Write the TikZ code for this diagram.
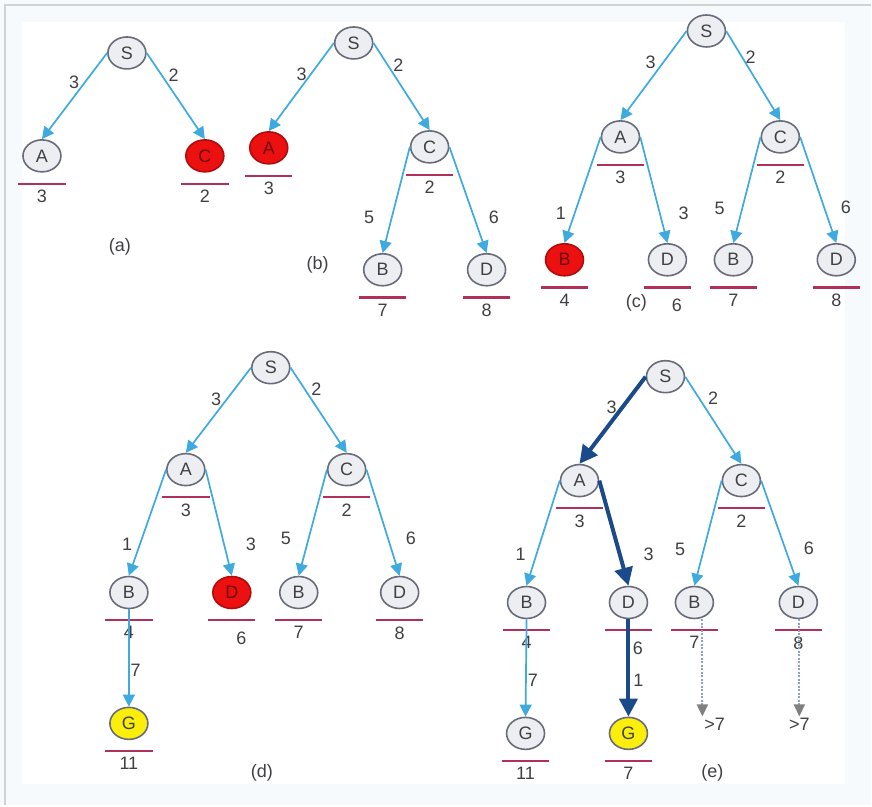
\documentclass[tikz,border=0pt]{standalone}
\usepackage{fontspec}
\setmainfont{Liberation Sans}
\usepackage{tikz}
\usetikzlibrary{arrows.meta,positioning,shapes.geometric}

\definecolor{nodefill}{RGB}{236,238,242}
\definecolor{nodeedge}{RGB}{104,108,122}
\definecolor{hotred}{RGB}{236,16,16}
\definecolor{goalyel}{RGB}{250,238,10}
\definecolor{edgeblue}{RGB}{62,170,224}
\definecolor{pathblue}{RGB}{26,74,138}
\definecolor{prunegray}{RGB}{140,165,192}
\definecolor{barred}{RGB}{176,48,88}
\definecolor{txt}{RGB}{64,64,68}
\definecolor{paper}{RGB}{247,250,252}

\tikzset{
  state/.style={ellipse, draw=nodeedge, line width=1.6pt, fill=nodefill, minimum width=38pt, minimum height=32pt, inner sep=0pt, text=txt},
  hot/.style={state, fill=hotred, draw=hotred!75!black, text=hotred!45!black},
  goal/.style={state, fill=goalyel},
  arc/.style={draw=edgeblue, line width=1.7pt, -{Triangle[length=12pt,width=12pt]}},
  best/.style={draw=pathblue, line width=4pt, -{Triangle[length=18pt,width=18pt]}},
  prune/.style={draw=prunegray, line width=2pt, dash pattern=on 2pt off 1.5pt, -{Triangle[length=12pt,width=11pt,color=gray]}},
  wt/.style={text=txt, inner sep=1pt},
  costbar/.style={draw=barred, line width=2.2pt},
  cost/.style={text=txt, minimum width=47pt, inner xsep=0pt, inner ysep=6pt,
    append after command={(\tikzlastnode.north west) edge[costbar] (\tikzlastnode.north east)}},
  costR/.style={cost, text width=29pt, inner xsep=9pt, align=right, inner ysep=11pt},
  tag/.style={text=txt}
}

\begin{document}
\begin{tikzpicture}[x=1pt, y=-1pt, every node/.style={font=\fontsize{18}{21}\selectfont}]
% paper and frame
\fill[paper] (0,0) rectangle (872,806);
\fill[white] (22,22) rectangle (846,785);
\draw[gray!35, line width=1.5pt] (5,806) -- (5,5) -- (872,5);

% (a)
\node[state] (aS) at (127,53) {S};
\node[state] (aA) at (42,156) {A};
\node[hot] (aC) at (205,156) {C};
\node[cost, below=11pt of aA] (aA-k) {3};
\node[cost, below=11pt of aC] (aC-k) {2};
\draw[arc] (aS.west) -- node[wt, pos=.34, left=4pt] {3} (aA.north);
\draw[arc] (aS.east) -- node[wt, pos=.26, right=5pt] {2} (aC.north);
\node[tag] (tagA) at (120,247) {(a)};

% (b)
\node[state] (bS) at (354,43) {S};
\node[hot] (bA) at (269,148) {A};
\node[state] (bC) at (430,147) {C};
\node[state] (bB) at (383,270) {B};
\node[state] (bD) at (487,270) {D};
\node[cost, below=11pt of bA] (bA-k) {3};
\node[cost, below=11pt of bC] (bC-k) {2};
\node[cost, below=11pt of bB] (bB-k) {7};
\node[cost, below=11pt of bD] (bD-k) {8};
\draw[arc] (bS.west) -- node[wt, pos=.36, left=2pt] {3} (bA.north);
\draw[arc] (bS.east) -- node[wt, pos=.25, right=4pt] {2} (bC.north);
\draw[arc] (bC.west) -- node[wt, pos=.66, left=16pt] {5} (bB.north);
\draw[arc] (bC.east) -- node[wt, pos=.66, right=13pt] {6} (bD.north);
\node[tag] (tagB) at (318,265) {(b)};

% (c)
\node[state] (cS) at (707,31) {S};
\node[state] (cA) at (621,137) {A};
\node[state] (cC) at (781,137) {C};
\node[hot] (cB1) at (565,260) {B};
\node[state] (cD1) at (668,260) {D};
\node[state] (cB2) at (734,260) {B};
\node[state] (cD2) at (837,260) {D};
\node[cost, below=11pt of cA] (cA-k) {3};
\node[cost, below=11pt of cC] (cC-k) {2};
\node[cost, below=11pt of cB1] (cB1-k) {4};
\node[costR, below=11pt of cD1] (cD1-k) {6};
\node[cost, below=11pt of cB2] (cB2-k) {7};
\node[cost, below=11pt of cD2] (cD2-k) {8};
\draw[arc] (cS.west) -- node[wt, pos=.35, left=6pt] {3} (cA.north);
\draw[arc] (cS.east) -- node[wt, pos=.29, right=2pt] {2} (cC.north);
\draw[arc] (cA.west) -- node[wt, pos=.72, left=7pt] {1} (cB1.north);
\draw[arc] (cA.east) -- node[wt, pos=.72, right=17pt] {3} (cD1.north);
\draw[arc] (cC.west) -- node[wt, pos=.67, left=16pt] {5} (cB2.north);
\draw[arc] (cC.east) -- node[wt, pos=.66, right=15pt] {6} (cD2.north);
\node[tag] (tagC) at (637,303) {(c)};

% (d)
\node[state] (dS) at (271,368) {S};
\node[state] (dA) at (186,470) {A};
\node[state] (dC) at (347,470) {C};
\node[state] (dB1) at (129,593) {B};
\node[hot] (dD1) at (232,593) {D};
\node[state] (dB2) at (299,593) {B};
\node[state] (dD2) at (400,593) {D};
\node[goal] (dG) at (129,724) {G};
\node[cost, below=11pt of dA] (dA-k) {3};
\node[cost, below=11pt of dC] (dC-k) {2};
\node[cost, below=11pt of dB1] (dB1-k) {4};
\node[costR, below=11pt of dD1] (dD1-k) {6};
\node[cost, below=11pt of dB2] (dB2-k) {7};
\node[cost, below=11pt of dD2] (dD2-k) {8};
\node[cost, below=11pt of dG] (dG-k) {11};
\draw[arc] (dS.west) -- node[wt, pos=.37, left=4pt] {3} (dA.north);
\draw[arc] (dS.east) -- node[wt, pos=.25, right=5pt] {2} (dC.north);
\draw[arc] (dA.west) -- node[wt, pos=.70, left=6pt] {1} (dB1.north);
\draw[arc] (dA.east) -- node[wt, pos=.70, right=20pt] {3} (dD1.north);
\draw[arc] (dC.west) -- node[wt, pos=.65, left=16pt] {5} (dB2.north);
\draw[arc] (dC.east) -- node[wt, pos=.65, right=16pt] {6} (dD2.north);
\draw[arc] (dB1.south) -- node[wt, pos=.63, right=0pt] {7} (dG.north);
\node[tag] (tagD) at (262,773) {(d)};

% (e)
\node[state] (eS) at (666,377) {S};
\node[state] (eA) at (580,481) {A};
\node[state] (eC) at (742,481) {C};
\node[state] (eB1) at (527,603) {B};
\node[state] (eD1) at (629,603) {D};
\node[state] (eB2) at (695,603) {B};
\node[state] (eD2) at (799,603) {D};
\node[state] (eG1) at (526,734) {G};
\node[goal] (eG2) at (629,734) {G};
\node[cost, below=11pt of eA] (eA-k) {3};
\node[cost, below=11pt of eC] (eC-k) {2};
\node[cost, below=11pt of eB1] (eB1-k) {4};
\node[costR, below=11pt of eD1] (eD1-k) {6};
\node[cost, below=11pt of eB2] (eB2-k) {7};
\node[cost, below=11pt of eD2] (eD2-k) {8};
\node[cost, below=11pt of eG1] (eG1-k) {11};
\node[cost, below=11pt of eG2] (eG2-k) {7};
\draw[best] (eS.west) -- node[wt, pos=.35, left=3pt] {3} (eA.north);
\draw[arc] (eS.east) -- node[wt, pos=.25, right=7pt] {2} (eC.north);
\draw[arc] (eA.west) -- node[wt, pos=.70, left=9pt] {1} (eB1.north);
\draw[best] (eA.east) -- node[wt, pos=.70, right=21pt] {3} (eD1.north);
\draw[arc] (eC.west) -- node[wt, pos=.65, left=17pt] {5} (eB2.north);
\draw[arc] (eC.east) -- node[wt, pos=.64, right=17pt] {6} (eD2.north);
\draw[arc] (eB1.south) -- node[wt, pos=.63, right=0pt] {7} (eG1.north);
\draw[best] (eD1.south) -- node[wt, pos=.63, right=2pt] {1} (eG2.north);
% cut-off branches
\coordinate (eB2-x) at (703,717);
\coordinate (eD2-x) at (800,717);
\draw[prune] (eB2-x |- eB2.south) -- (eB2-x) node[wt, anchor=north west] (eB2-gt) {>7};
\draw[prune] (eD2-x |- eD2.south) -- (eD2-x) node[wt, anchor=north] (eD2-gt) {>7};
\node[tag] (tagE) at (713,773) {(e)};
\end{tikzpicture}
\end{document}
